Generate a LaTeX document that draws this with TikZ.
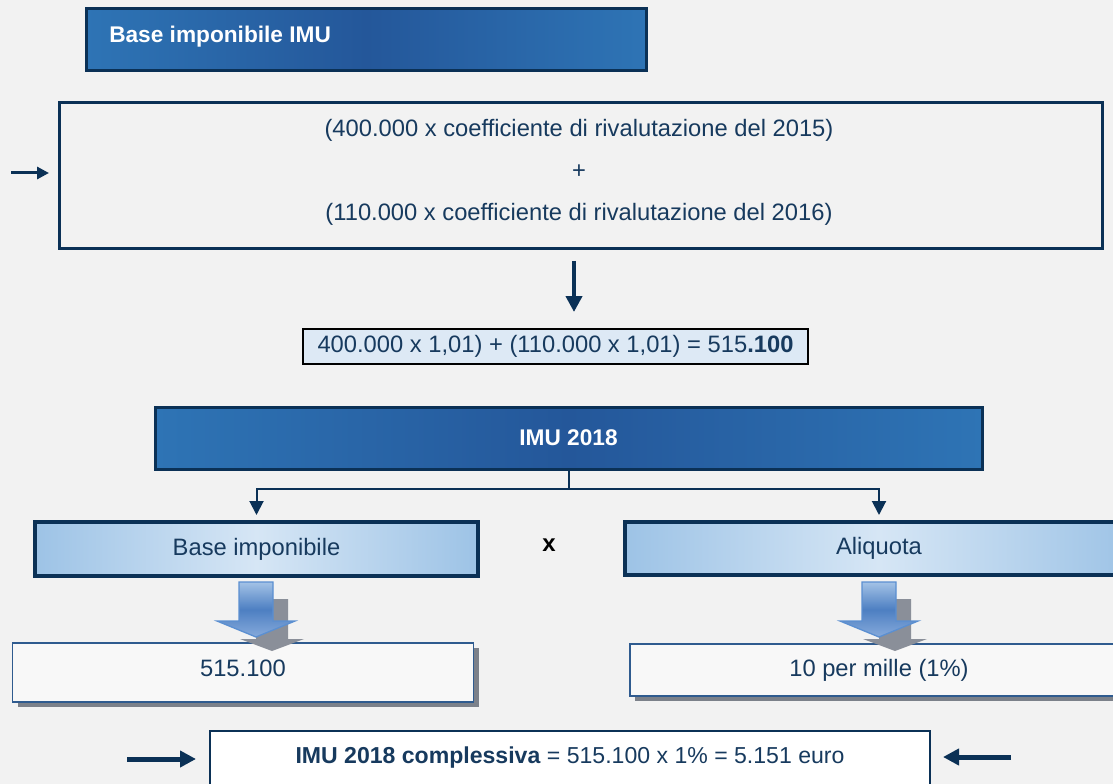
\documentclass[tikz,border=0pt]{standalone}
\usepackage{fontspec}
\setmainfont{Liberation Sans}
\usetikzlibrary{arrows.meta,shadows}
\definecolor{bg}{HTML}{F2F2F2}
\definecolor{navy}{HTML}{0B3156}
\definecolor{txt}{HTML}{173A5E}
\definecolor{hdr}{HTML}{2E74B5}
\definecolor{hdrmid}{HTML}{24579A}
\definecolor{lbedge}{HTML}{9DC3E6}
\definecolor{lbmid}{HTML}{D6E6F5}
\definecolor{fbox}{HTML}{DDE9F5}
\definecolor{valfill}{HTML}{F8F8F8}
\definecolor{valline}{HTML}{2F5B8F}
\definecolor{shad}{HTML}{8A8F99}
\definecolor{bat}{HTML}{A3C2E6}
\definecolor{bam}{HTML}{4D7FC2}
\definecolor{bab}{HTML}{86AADB}
\definecolor{baline}{HTML}{5B8FD1}
\begin{document}
\begin{tikzpicture}[x=0.75pt,y=-0.75pt,
  basefont/.style={font=\fontsize{17.8}{20}\selectfont},
  hdrbox/.style={draw=navy,line width=2.25pt,left color=hdr,right color=hdr,middle color=hdrmid,inner sep=0pt},
  lightbox/.style={draw=navy,line width=3pt,left color=lbedge,right color=lbedge,middle color=lbmid,inner sep=0pt,text=txt,basefont},
  valbox/.style={draw=valline,line width=1.2pt,fill=valfill,inner sep=0pt,text=txt,basefont,
     drop shadow={shadow xshift=3.75pt,shadow yshift=-3.75pt,fill=shad!90!black,opacity=1}},
  conn/.style={draw=navy,line width=1.5pt,-{Triangle[width=10.5pt,length=10.5pt]}},
  thickarr/.style={draw=navy,-{Triangle[width=#1,length=#1]}},
  blockarr/.style={draw=baline,line width=1pt,top color=bat,bottom color=bab,middle color=bam},
  shadarr/.style={fill=shad}
]
\useasboundingbox (0,0) rectangle (1113,784);
\fill[bg] (0,0) rectangle (1113,784);

% header 1
\node[hdrbox,minimum width=420pt,minimum height=46.5pt] (h1) at (366,40) {};
\node[anchor=west,text=white,font=\fontsize{17}{20}\selectfont\bfseries,inner sep=0pt] (h1t) at (109,37) {Base imponibile IMU};

% big box
\node[draw=navy,line width=2.25pt,fill=bg,minimum width=782.25pt,minimum height=109.5pt,inner sep=0pt] (big) at (580.5,176) {};
\node[text=txt,align=center,font=\fontsize{17.8}{31.5}\selectfont,inner sep=0pt] (bigt) at (579,172)
  {(400.000 x coefficiente di rivalutazione del 2015)\\+\\(110.000 x coefficiente di rivalutazione del 2016)};

\coordinate (la1) at (11,173);
\coordinate (la2) at (49,173);
\draw[thickarr=9pt,line width=2.25pt] (la1) -- (la2);

% down arrow
\coordinate (d1) at (574,261);
\coordinate (d2) at (574,312);
\draw[thickarr=12pt,line width=3pt] (d1) -- (d2);

% formula
\node[draw=black,line width=1.5pt,fill=fbox,minimum width=378.75pt,minimum height=26.25pt,inner sep=0pt,text=txt,basefont] (form) at (555.5,346.5)
  {400.000 x 1,01) + (110.000 x 1,01) = 515\textbf{.100}};

% IMU 2018
\node[hdrbox,minimum width=620.25pt,minimum height=46.5pt,text=white,font=\fontsize{17}{20}\selectfont\bfseries] (imu) at (568.5,438) {IMU 2018};

% level boxes
\node[lightbox,minimum width=332.25pt,minimum height=40.5pt] (base) at (256.5,549) {Base imponibile};
\node[lightbox,minimum width=381pt,minimum height=39.75pt] (aliq) at (879,548.5) {Aliquota};
\node[font=\fontsize{18}{20}\selectfont\bfseries,text=black,inner sep=0pt] (times) at (549,545) {x};

\coordinate (j) at (imu.south |- 0,489);
\draw[conn,shorten >=3.75pt] (imu.south) -- (j) -| (base.north);
\draw[conn,shorten >=3.75pt] (j) -| (aliq.north);

% value boxes
\node[valbox,minimum width=345.75pt,minimum height=44.25pt] (val1) at (243,672.5) {};
\node[text=txt,basefont,inner sep=0pt] (val1t) at (243,668) {515.100};
\node[valbox,minimum width=373.5pt,minimum height=39pt] (val2) at (879,670) {10 per mille (1\%)};

% block arrows (shadow then arrow)
\fill[shadarr] (272-16,599) -- (272+16,599) -- (272+16,639) -- (272+32,639) -- (272,651) -- (272-32,639) -- (272-16,639) -- cycle;
\path[blockarr] (256-17,582) -- (256+17,582) -- (256+17,621) -- (256+39,621) -- (256,637) -- (256-39,621) -- (256-17,621) -- cycle;
\fill[shadarr] (895-16,599) -- (895+16,599) -- (895+16,639) -- (895+32,639) -- (895,651) -- (895-32,639) -- (895-16,639) -- cycle;
\path[blockarr] (879-17,582) -- (879+17,582) -- (879+17,621) -- (879+39,621) -- (879,637) -- (879-39,621) -- (879-17,621) -- cycle;

% total
\node[draw=navy,line width=1.5pt,fill=white,minimum width=540pt,minimum height=44.25pt,inner sep=0pt] (tot) at (570,760.5) {};
\node[text=txt,font=\fontsize{17.3}{20}\selectfont,inner sep=0pt] (tott) at (570,758) {\textbf{IMU 2018 complessiva} = 515.100 x 1\% = 5.151 euro};

\coordinate (bl1) at (127,759);
\coordinate (bl2) at (196,759);
\draw[thickarr=12pt,line width=3.75pt] (bl1) -- (bl2);
\coordinate (br1) at (1011,757);
\coordinate (br2) at (943,757);
\draw[thickarr=12pt,line width=3.75pt] (br1) -- (br2);
\end{tikzpicture}
\end{document}
